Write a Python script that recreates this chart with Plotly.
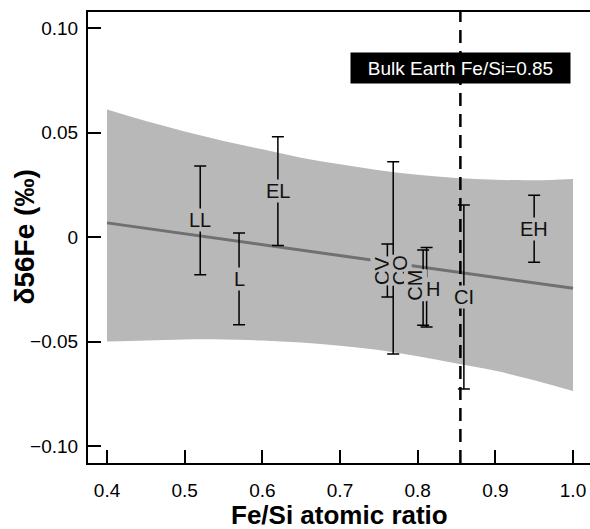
import plotly.graph_objects as go

# ---- data ----
groups = ["LL", "L", "EL", "EH", "CV", "CO", "CM", "H", "CI"]
fe_si = [0.52, 0.57, 0.62, 0.95, 0.761, 0.7685, 0.807, 0.8115, 0.8595]
d56fe = [0.008, -0.020, 0.022, 0.004, -0.016, -0.010, -0.0242, -0.024, -0.0287]
err2sd = [0.026, 0.022, 0.026, 0.016, 0.0127, 0.046, 0.018, 0.019, 0.044]
rotated = [False, False, False, False, True, True, True, False, False]
# label offsets (pixels) to keep crowded labels apart
label_dx = [0, 0, 0, 0, -6, 7, -8, 6, 0]
label_dy = [0, 0, 0, 0, 0, -12, 2, -2, 0]

fit_x = [0.4, 1.0]
fit_y = [0.0068, -0.0245]

band_x = [0.40, 0.45, 0.50, 0.55, 0.60, 0.65, 0.70, 0.75, 0.80, 0.85, 0.90, 0.95, 1.00]
band_hi = [0.061, 0.0555, 0.0505, 0.046, 0.042, 0.038, 0.0348, 0.032, 0.0298, 0.0283, 0.0274, 0.0272, 0.0278]
band_lo = [-0.050, -0.0495, -0.049, -0.049, -0.0495, -0.0505, -0.052, -0.054, -0.057, -0.0605, -0.064, -0.0685, -0.0737]

bulk_earth = 0.855
bulk_label = "Bulk Earth Fe/Si=0.85"

x_ticks = [0.4, 0.5, 0.6, 0.7, 0.8, 0.9, 1.0]
x_ticktext = ["0.4", "0.5", "0.6", "0.7", "0.8", "0.9", "1.0"]
y_ticks = [0.10, 0.05, 0.0, -0.05, -0.10]
y_ticktext = ["0.10", "0.05", "0", "\u22120.05", "\u22120.10"]

FONT = "Liberation Sans, Arial, sans-serif"
BAND = "#b8b8b8"

fig = go.Figure()

# confidence band
fig.add_trace(go.Scatter(x=band_x, y=band_hi, mode="lines", line=dict(width=0, shape="spline"),
                         showlegend=False, hoverinfo="skip"))
fig.add_trace(go.Scatter(x=band_x, y=band_lo, mode="lines", line=dict(width=0, shape="spline"),
                         fill="tonexty", fillcolor=BAND, showlegend=False, hoverinfo="skip"))

# regression line
fig.add_trace(go.Scatter(x=fit_x, y=fit_y, mode="lines", line=dict(color="#707070", width=3),
                         showlegend=False))

# error bars
fig.add_trace(go.Scatter(x=fe_si, y=d56fe, mode="markers", marker=dict(size=1, opacity=0),
                         error_y=dict(type="data", array=err2sd, visible=True, color="black",
                                      thickness=1.5, width=6),
                         showlegend=False))

# text labels
for gx, gy, gt, r, dx, dy in zip(fe_si, d56fe, groups, rotated, label_dx, label_dy):
    fig.add_annotation(x=gx, y=gy, text=gt, showarrow=False, textangle=-90 if r else 0,
                       bgcolor=BAND, xshift=dx, yshift=dy,
                       font=dict(family=FONT, size=20, color="#111"), borderpad=0)

# bulk earth line
fig.add_shape(type="line", x0=bulk_earth, x1=bulk_earth, xref="x", y0=0, y1=1, yref="paper",
              line=dict(color="black", width=2.5, dash="13px,8px"))
fig.add_annotation(x=bulk_earth, y=0.081, text=bulk_label, showarrow=False,
                   bgcolor="black", font=dict(family=FONT, size=19, color="white"),
                   width=213, height=24, borderpad=3, xanchor="center", yanchor="middle")

# axis titles
fig.add_annotation(xref="paper", yref="paper", x=0.5, y=-(515 - 463) / 451,
                   text="<b>Fe/Si atomic ratio</b>",
                   showarrow=False, xanchor="center", yanchor="middle",
                   font=dict(family=FONT, size=26, color="black"))
fig.add_annotation(xref="paper", yref="paper", x=-(88 - 24) / 502, y=0.5,
                   text="<b>\u03b456Fe (\u2030)</b>", textangle=-90,
                   showarrow=False, xanchor="center", yanchor="middle",
                   font=dict(family=FONT, size=28, color="black"))

fig.update_layout(
    width=590, height=529,
    margin=dict(l=88, r=0, t=12, b=66),
    paper_bgcolor="white", plot_bgcolor="white",
    font=dict(family=FONT, size=19, color="black"),
    xaxis=dict(range=[0.3755, 1.0219], tickvals=x_ticks, ticktext=x_ticktext,
               showgrid=False, zeroline=False, showline=True, linecolor="black", linewidth=2,
               mirror=True, ticks="inside", ticklen=13, tickwidth=2, tickcolor="black",
               ticklabelstandoff=9),
    yaxis=dict(range=[-0.1081, 0.1077], tickvals=y_ticks, ticktext=y_ticktext,
               showgrid=False, zeroline=False, showline=True, linecolor="black", linewidth=2,
               mirror=False, ticks="inside", ticklen=13, tickwidth=2, tickcolor="black",
               ticklabelstandoff=4),
)

fig.write_html("out.html")
